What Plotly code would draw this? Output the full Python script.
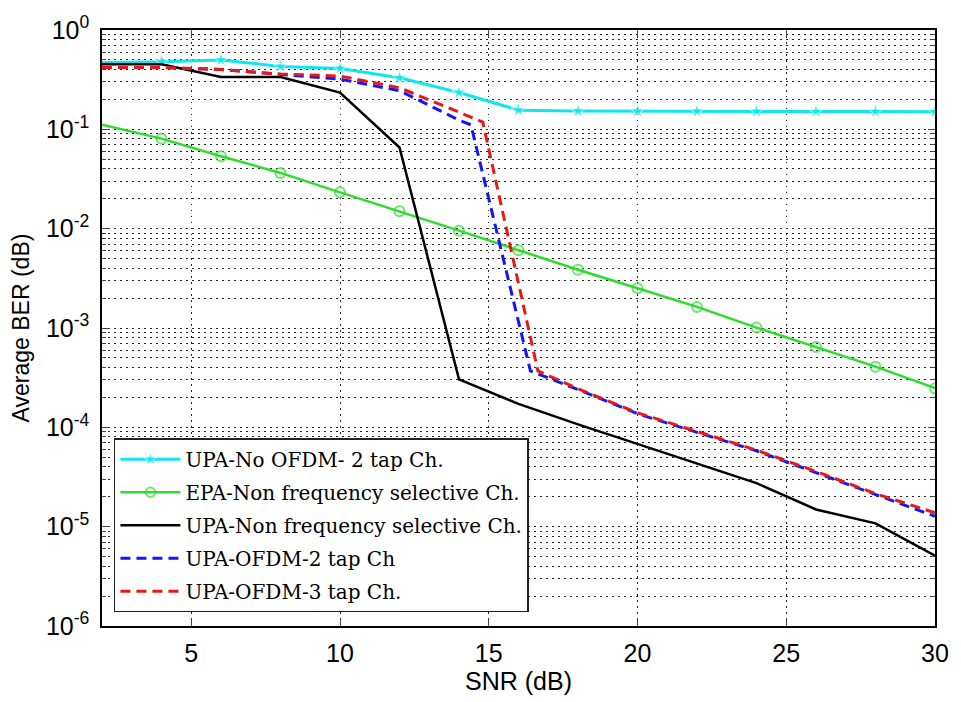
import plotly.graph_objects as go

snr = [2, 4, 6, 8, 10, 12, 14, 16, 18, 20, 22, 24, 26, 28, 30]

ber_upa_no_ofdm_2tap = [0.47, 0.48, 0.50, 0.43, 0.41, 0.33, 0.235, 0.156, 0.153,
                        0.152, 0.152, 0.152, 0.151, 0.151, 0.150]
ber_epa_nonsel = [0.111, 0.0806, 0.0536, 0.0364, 0.0232, 0.0150, 0.00955, 0.00607,
                  0.00386, 0.00251, 0.00163, 0.00101, 0.000643, 0.000408, 0.000248]
ber_upa_nonsel = [0.452, 0.452, 0.337, 0.337, 0.234, 0.0657, 3.04e-4, 1.72e-4,
                  1.07e-4, 6.8e-5, 4.32e-5, 2.74e-5, 1.49e-5, 1.08e-5, 5.12e-6]

snr_ofdm2 = [2, 4, 6, 8, 10, 12, 14, 14.4, 16.4, 18, 20, 22, 24, 26, 28, 30]
ber_ofdm2 = [0.42, 0.42, 0.40, 0.36, 0.32, 0.245, 0.124, 0.111, 3.7e-4, 2.4e-4,
             1.37e-4, 8.9e-5, 5.8e-5, 3.5e-5, 2.1e-5, 1.27e-5]
snr_ofdm3 = [2, 4, 6, 8, 10, 12, 14, 14.8, 16.65, 18, 20, 22, 24, 26, 28, 30]
ber_ofdm3 = [0.42, 0.42, 0.40, 0.36, 0.344, 0.262, 0.149, 0.118, 3.7e-4, 2.45e-4,
             1.4e-4, 9.1e-5, 5.9e-5, 3.6e-5, 2.15e-5, 1.38e-5]

names = ["UPA-No OFDM- 2 tap Ch.", "EPA-Non frequency selective Ch.",
         "UPA-Non frequency selective Ch.", "UPA-OFDM-2 tap Ch", "UPA-OFDM-3 tap Ch."]

x_ticks = [5, 10, 15, 20, 25, 30]
y_exps = [-6, -5, -4, -3, -2, -1, 0]

marker_sizes = [0] + [11] * (len(snr) - 1)
circle_sizes = [0] + [10] * (len(snr) - 1)

fig = go.Figure()
fig.add_trace(go.Scatter(x=snr, y=ber_upa_no_ofdm_2tap, name=names[0], mode="lines+markers",
                         line=dict(color="#10e6ee", width=3),
                         marker=dict(symbol="star", size=marker_sizes, color="#10e6ee"),
                         legendgroup="a"))
fig.add_trace(go.Scatter(x=snr, y=ber_epa_nonsel, name=names[1], mode="lines+markers",
                         line=dict(color="#2edb2e", width=2.5),
                         marker=dict(symbol="circle-open", size=circle_sizes, color="#2edb2e",
                                     line=dict(width=2)),
                         legendgroup="b"))
fig.add_trace(go.Scatter(x=snr, y=ber_upa_nonsel, name=names[2], mode="lines",
                         line=dict(color="black", width=2.5), legendgroup="c"))
fig.add_trace(go.Scatter(x=snr_ofdm2, y=ber_ofdm2, name=names[3], mode="lines",
                         line=dict(color="#1515f5", width=3, dash="10px,6px"), legendgroup="d"))
fig.add_trace(go.Scatter(x=snr_ofdm3, y=ber_ofdm3, name=names[4], mode="lines",
                         line=dict(color="#e81818", width=3, dash="10px,6px"), legendgroup="e"))

minor_vals = [m * 10.0 ** e for e in range(-6, 0) for m in range(2, 10)]

grid_dash = "1.5px,4.5px"
grid_col = "#222222"

fig.update_layout(
    width=961, height=702,
    margin=dict(l=102, r=18, t=23, b=69),
    paper_bgcolor="white", plot_bgcolor="white",
    font=dict(family="Liberation Sans, Arial, sans-serif", size=24, color="black"),
    showlegend=True,
    legend=dict(x=0.0143, y=0.023, xanchor="left", yanchor="bottom",
                bgcolor="white", bordercolor="#222222", borderwidth=1.5,
                font=dict(family="DejaVu Serif, serif", size=20, color="black"),
                traceorder="grouped", tracegroupgap=4, itemwidth=60),
    xaxis=dict(range=[2, 30], tickvals=x_ticks, ticks="inside", ticklen=7,
               showline=True, linecolor="black", linewidth=1.5, mirror="ticks",
               showgrid=True, gridcolor=grid_col, griddash=grid_dash, gridwidth=1,
               zeroline=False, tickfont=dict(size=25), ticklabelstandoff=4,
               title=dict(text="SNR (dB)", font=dict(size=25), standoff=6)),
    yaxis=dict(type="log", range=[-6, 0],
               tickvals=[10.0 ** e for e in y_exps],
               ticktext=["10<sup>%d</sup>" % e for e in y_exps],
               ticks="inside", ticklen=7,
               showline=True, linecolor="black", linewidth=1.5, mirror="ticks",
               showgrid=True, gridcolor=grid_col, griddash=grid_dash, gridwidth=1,
               zeroline=False, tickfont=dict(size=25), ticklabelstandoff=6,
               minor=dict(tickvals=minor_vals, ticks="inside", ticklen=4,
                          showgrid=True, gridcolor=grid_col, griddash=grid_dash, gridwidth=1),
               title=dict(text="Average BER (dB)", font=dict(size=23), standoff=10)),
)

fig.write_html("out.html")
